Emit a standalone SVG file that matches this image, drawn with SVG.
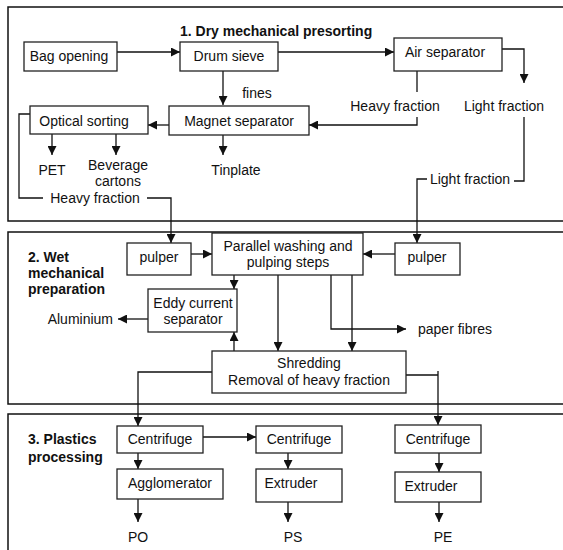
<svg xmlns="http://www.w3.org/2000/svg" width="563" height="550" viewBox="0 0 563 550">
<defs>
<marker id="ah" markerUnits="userSpaceOnUse" markerWidth="9" markerHeight="9" refX="9" refY="4.5" orient="auto"><path d="M0,0 L9,4.5 L0,9 z" fill="#111"/></marker>
<style>
.frame{fill:none;stroke:#111;stroke-width:1.5}
.box{fill:#fff;stroke:#222;stroke-width:1.3}
.c{fill:none;stroke:#111;stroke-width:1.3}
.a{marker-end:url(#ah)}
text{font-family:"Liberation Sans",Arial,sans-serif;font-size:14px;fill:#111}
.m{text-anchor:middle}
.b{font-weight:bold}
</style>
</defs>
<rect width="563" height="550" fill="#fff"/>
<g id="sections">
<rect class="frame" x="8" y="7" width="600" height="214"/>
<rect class="frame" x="8" y="232" width="600" height="172"/>
<rect class="frame" x="8" y="414" width="600" height="200"/>
<text class="b" x="180" y="36">1. Dry mechanical presorting</text>
<text class="b" x="28" y="262">2. Wet</text>
<text class="b" x="28" y="278">mechanical</text>
<text class="b" x="28" y="294">preparation</text>
<text class="b" x="28" y="444">3. Plastics</text>
<text class="b" x="28" y="462">processing</text>
</g>
<g id="connectors">
<path class="c a" d="M117,52 H180"/>
<path class="c a" d="M278,52 H394"/>
<path class="c a" d="M502,49 H524 V83"/>
<path class="c" d="M417,71 V92"/>
<path class="c a" d="M417,117 V125 H309"/>
<path class="c a" d="M223,71 V105"/>
<path class="c a" d="M169,125 H148"/>
<path class="c a" d="M52,134 V155"/>
<path class="c a" d="M116,134 V155"/>
<path class="c a" d="M223,135 V155"/>
<path class="c" d="M30,114 H19 V198 H43"/>
<path class="c a" d="M147,198 H171 V243"/>
<path class="c" d="M524,117 V181 H514"/>
<path class="c a" d="M427,179 H417 V243"/>
<path class="c a" d="M191,254 H212"/>
<path class="c a" d="M395,254 H363"/>
<path class="c a" d="M234,275 V289"/>
<path class="c a" d="M148,319 H118"/>
<path class="c a" d="M278,275 V351"/>
<path class="c a" d="M331,275 V329 H406"/>
<path class="c a" d="M352,275 V351"/>
<path class="c a" d="M234,351 V332"/>
<path class="c a" d="M212,372 H138 V426"/>
<path class="c a" d="M406,375 H438 M438,371 V425"/>
<path class="c a" d="M203,437 H256"/>
<path class="c a" d="M138,453 V469"/>
<path class="c a" d="M138,499 V522"/>
<path class="c a" d="M288,453 V469"/>
<path class="c a" d="M288,502 V522"/>
<path class="c a" d="M439,453 V472"/>
<path class="c a" d="M439,502 V522"/>
</g>
<g id="labels">
<text class="m" x="257" y="98">fines</text>
<text class="m" x="395" y="111">Heavy fraction</text>
<text class="m" x="504" y="111">Light fraction</text>
<text class="m" x="52" y="175">PET</text>
<text class="m" x="118" y="170">Beverage</text>
<text class="m" x="118" y="186">cartons</text>
<text class="m" x="236" y="175">Tinplate</text>
<text class="m" x="95" y="203">Heavy fraction</text>
<text class="m" x="470" y="184">Light fraction</text>
<text x="113" y="324" text-anchor="end">Aluminium</text>
<text x="418" y="334">paper fibres</text>
<text class="m" x="138" y="542">PO</text>
<text class="m" x="293" y="542">PS</text>
<text class="m" x="443" y="542">PE</text>
</g>
<g id="bag"><rect class="box" x="24" y="42" width="93" height="29"/><text class="m" x="69" y="61">Bag opening</text></g>
<g id="drum"><rect class="box" x="180" y="42" width="98" height="29"/><text class="m" x="229" y="61">Drum sieve</text></g>
<g id="air"><rect class="box" x="394" y="38" width="108" height="33"/><text class="m" x="445" y="57">Air separator</text></g>
<g id="magnet"><rect class="box" x="169" y="106" width="140" height="29"/><text class="m" x="239" y="126">Magnet separator</text></g>
<g id="optical"><rect class="box" x="30" y="106" width="118" height="28"/><text class="m" x="84" y="126">Optical sorting</text></g>
<g id="pulperL"><rect class="box" x="127" y="243" width="64" height="32"/><text class="m" x="159" y="262">pulper</text></g>
<g id="parallel"><rect class="box" x="212" y="233" width="151" height="42"/><text class="m" x="288" y="251">Parallel washing and</text><text class="m" x="288" y="267">pulping steps</text></g>
<g id="pulperR"><rect class="box" x="395" y="243" width="65" height="32"/><text class="m" x="427" y="262">pulper</text></g>
<g id="eddy"><rect class="box" x="148" y="289" width="89" height="43"/><text class="m" x="193" y="308">Eddy current</text><text class="m" x="193" y="324">separator</text></g>
<g id="shred"><rect class="box" x="212" y="351" width="194" height="42"/><text class="m" x="309" y="368">Shredding</text><text class="m" x="309" y="385">Removal of heavy fraction</text></g>
<g id="cent1"><rect class="box" x="117" y="426" width="86" height="27"/><text class="m" x="160" y="444">Centrifuge</text></g>
<g id="cent2"><rect class="box" x="256" y="426" width="86" height="27"/><text class="m" x="299" y="444">Centrifuge</text></g>
<g id="cent3"><rect class="box" x="395" y="425" width="86" height="28"/><text class="m" x="438" y="444">Centrifuge</text></g>
<g id="agglo"><rect class="box" x="117" y="469" width="106" height="30"/><text class="m" x="170" y="488">Agglomerator</text></g>
<g id="extr2"><rect class="box" x="256" y="469" width="86" height="33"/><text class="m" x="291" y="488">Extruder</text></g>
<g id="extr3"><rect class="box" x="395" y="472" width="86" height="30"/><text class="m" x="431" y="491">Extruder</text></g>
</svg>
